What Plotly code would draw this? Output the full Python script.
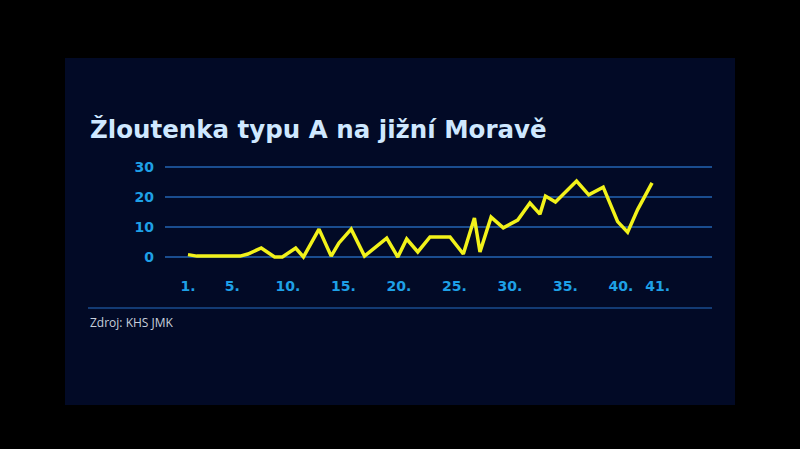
import plotly.graph_objects as go

# týden (přibližně) a počet případů
tyden = [1.0, 1.8, 5.7, 6.4, 7.6, 8.8, 9.5, 10.7, 11.4, 12.8, 13.9, 14.6, 15.7, 16.9,
         18.9, 19.9, 20.7, 21.7, 22.8, 23.3, 24.6, 25.8, 26.8, 27.3, 28.3, 29.4,
         30.7, 31.8, 32.7, 33.2, 34.1, 36.0, 37.1, 38.4, 39.7, 40.6, 41.5, 42.8]
pripady = [0.8, 0.3, 0.3, 1.0, 3.0, 0.0, 0.0, 3.0, 0.0, 9.3, 0.3, 4.7, 9.3, 0.3,
           6.3, 0.0, 6.0, 1.7, 6.7, 6.7, 6.7, 1.0, 13.0, 1.7, 13.3, 9.7,
           12.3, 18.0, 14.3, 20.3, 18.3, 25.3, 20.7, 23.3, 11.8, 8.3, 15.8, 24.7]
tick_vals = [1, 5, 10, 15, 20, 25, 30, 35, 40, 43.3]
tick_text = ["1.", "5.", "10.", "15.", "20.", "25.", "30.", "35.", "40.", "41."]

fig = go.Figure(go.Scatter(x=tyden, y=pripady, mode="lines",
                           line=dict(color="#f2f21a", width=3.5), hoverinfo="skip"))

fig.add_shape(type="rect", xref="paper", yref="paper", x0=65/800, x1=735/800,
              y0=1-405/449, y1=1-58/449, fillcolor="#020a26", line_width=0, layer="below")
fig.add_shape(type="line", xref="paper", yref="paper", x0=88/800, x1=712/800,
              y0=1-308/449, y1=1-308/449, line=dict(color="#1a4d8f", width=1.5))
fig.add_annotation(text="Žloutenka typu A na jižní Moravě", xref="paper", yref="paper",
                   x=88/800, y=1-130/449, xanchor="left", yanchor="middle", showarrow=False,
                   font=dict(family="DejaVu Sans", size=24.5, color="#cfe8ff", weight="bold"))
fig.add_annotation(text="Zdroj: KHS JMK", xref="paper", yref="paper",
                   x=88/800, y=1-322/449, xanchor="left", yanchor="middle", showarrow=False,
                   font=dict(family="Open Sans", size=12, color="#c8d0dc"))

fig.update_layout(
    width=800, height=449, margin=dict(l=0, r=0, t=0, b=0),
    paper_bgcolor="#000000", plot_bgcolor="rgba(0,0,0,0)", showlegend=False,
    xaxis=dict(domain=[165/800, 712/800], range=[-1.07, 48.2], tickvals=tick_vals,
               ticktext=tick_text, showgrid=False, zeroline=False, showline=False,
               tickfont=dict(family="DejaVu Sans", size=14, color="#1ea0e6", weight="bold")),
    yaxis=dict(domain=[1-276/449, 1-150/449], range=[-6.33, 35.67], tickvals=[0, 10, 20, 30],
               gridcolor="#1a4d8f", gridwidth=1.5, zeroline=False, showline=False, ticklabelstandoff=10,
               tickfont=dict(family="DejaVu Sans", size=14, color="#1ea0e6", weight="bold")),
)
fig.write_html("out.html", config={"displayModeBar": False},
               post_script="document.body.style.margin='0';document.body.style.background='#000';")
